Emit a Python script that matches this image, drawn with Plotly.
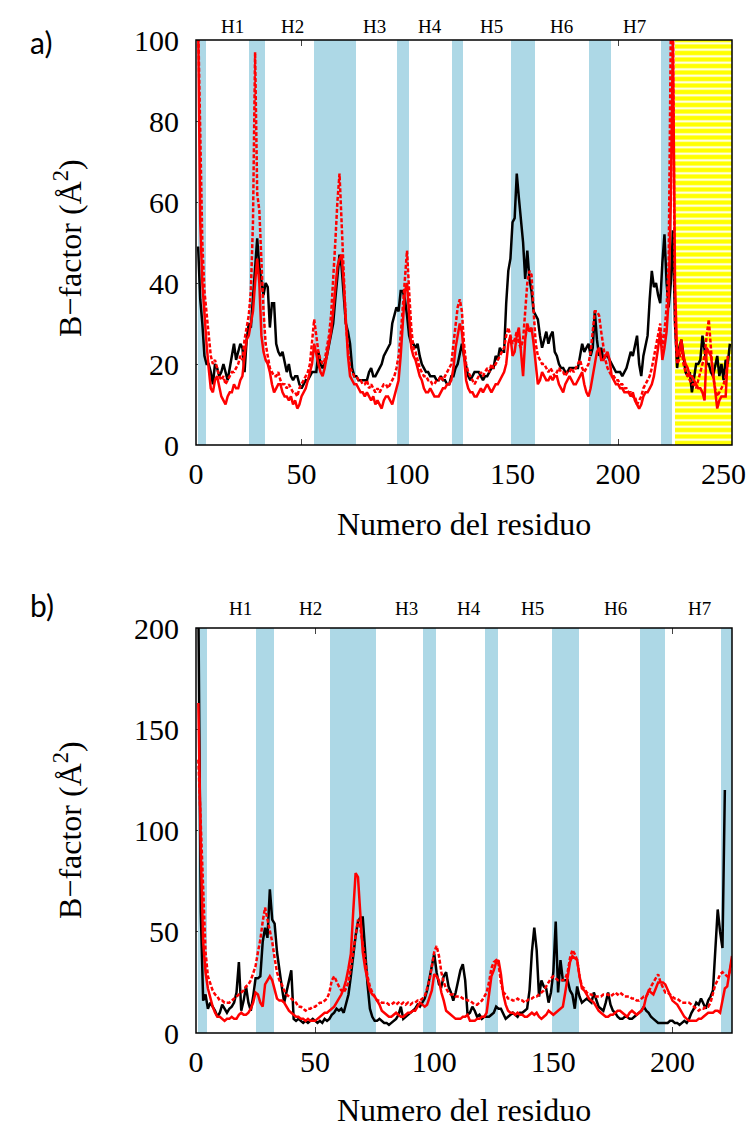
import plotly.graph_objects as go

# ---------------- DATA ----------------
# Panel a) : residues 1..N
a_black = [49,36,30,22,20,20,18,15,20,19,17,18,20,18,16,19,22,25,21,23,25,24,18,26,30,29,36,44,51,44,
           40,37,40,39,29,35,35,25,23,22,23,20,18,20,17,16,17,17,15,14,15,16,16,17,18,18,18,23,20,19,
           20,22,25,27,30,36,42,47,44,38,30,28,25,19,17,17,16,16,16,16,16,18,19,17,17,18,19,20,22,23,
           24,25,30,32,34,33,38,38,36,32,27,25,25,24,25,22,20,19,18,18,17,17,17,16,16,17,16,16,15,15,
           17,17,19,20,23,25,22,19,17,16,17,18,18,18,17,16,17,17,18,19,19,22,21,24,23,23,35,43,46,55,
           56,67,61,56,50,41,48,41,38,33,32,31,27,24,26,28,25,27,28,23,22,20,19,19,18,18,19,19,19,19,
           19,22,25,23,24,25,22,24,33,26,22,24,21,22,22,21,20,19,18,18,18,17,18,19,21,23,22,25,27,20,
           17,22,25,27,36,43,39,40,37,35,45,52,40,34,40,53,30,19,24,26,22,18,17,18,13,17,20,20,21,27,
           24,20,20,18,17,20,22,17,20,16,21,20,25]
a_red = [105,55,40,31,25,19,14,13,16,17,14,12,11,10,12,13,13,15,14,14,16,17,22,26,27,30,33,40,46,40,
         27,23,21,20,18,15,13,14,15,15,13,12,12,11,12,10,11,9,10,12,13,14,16,18,20,25,22,20,18,17,
         19,22,24,28,33,38,44,46,47,40,32,22,17,16,15,15,14,13,13,12,13,12,11,12,10,11,10,9,11,12,
         12,11,10,12,14,16,22,30,38,40,33,24,22,21,19,17,16,14,13,13,14,13,12,12,12,13,14,14,15,15,
         16,19,24,27,30,28,21,16,14,13,13,12,12,13,14,13,14,15,14,13,14,15,15,16,17,18,20,25,27,22,
         23,27,29,23,17,26,30,28,29,25,20,15,16,18,17,16,16,17,16,17,17,15,14,13,15,16,17,16,15,15,
         16,17,18,15,13,12,14,17,20,23,24,21,21,22,23,21,17,16,15,15,14,14,13,13,13,12,13,11,10,9,
         10,12,13,13,14,15,17,20,24,28,21,24,28,36,60,102,40,22,23,26,22,20,19,17,17,16,15,14,14,13,
         11,24,23,22,18,13,9,11,12,12,12,22]
a_red_dot = [105,75,50,38,32,26,22,20,21,19,17,16,17,15,16,17,18,18,19,20,22,21,26,29,32,38,55,97,62,58,
             45,33,25,22,19,18,17,17,18,16,15,15,14,15,14,13,13,12,14,15,16,17,18,20,25,31,27,23,21,20,
             21,24,27,32,40,50,60,67,55,42,30,24,19,18,17,17,16,16,15,15,16,14,15,14,13,14,13,14,15,15,
             14,15,16,17,19,22,27,34,42,48,38,29,24,23,21,19,18,17,17,16,16,15,15,16,16,17,16,17,18,19,
             20,25,30,34,36,33,25,20,18,17,16,15,16,17,18,17,18,19,18,20,19,20,21,22,23,24,27,29,27,25,
             26,28,25,24,26,34,40,43,42,33,25,22,21,20,20,19,18,19,18,17,18,19,18,18,17,18,18,19,18,19,
             20,21,19,18,19,20,23,28,33,33,32,28,24,21,19,18,17,17,16,16,15,15,14,14,13,13,12,12,10,11,
             12,14,15,16,17,19,22,25,28,30,24,28,34,45,102,102,30,20,21,24,20,18,17,16,15,15,14,16,18,20,
             22,27,31,24,17,14,12,13,14,15,17,20]

# Panel b) : residues 1..N
b_black = [210,60,16,19,12,15,13,11,8,10,14,12,10,12,13,15,20,35,11,16,23,15,11,18,27,27,28,45,52,47,
           71,56,54,40,30,23,15,20,26,31,7,6,7,6,5,6,5,6,7,6,5,6,5,7,6,7,9,10,12,11,
           12,10,14,19,28,39,48,55,57,57,40,24,12,8,6,6,7,6,5,5,4,5,6,7,9,13,7,8,9,10,
           11,12,14,13,15,17,21,27,33,39,30,24,23,28,30,23,20,16,20,26,31,34,26,9,10,13,11,8,9,7,
           8,8,8,9,10,13,12,12,9,7,8,9,10,9,8,10,10,11,12,21,40,52,41,18,26,23,22,15,20,30,
           55,20,36,26,26,26,21,19,12,23,18,15,16,17,16,15,20,16,13,12,11,15,20,14,11,10,8,7,7,8,
           8,7,7,8,9,10,11,13,11,10,8,7,6,5,5,5,5,5,6,6,5,5,4,5,6,5,7,10,12,15,
           14,17,14,12,16,18,21,40,61,50,42,120]
b_red = [163,90,45,30,22,17,13,10,8,8,7,6,7,7,8,7,7,9,10,9,9,10,12,15,20,19,15,13,24,26,
         28,26,22,17,16,16,15,13,11,10,9,8,8,7,7,6,7,6,6,6,7,8,9,10,10,11,12,13,15,17,
         19,22,26,32,39,60,79,77,56,40,32,27,21,19,18,16,14,11,10,9,8,8,9,10,9,8,8,9,10,10,
         11,11,13,15,14,13,14,18,21,29,28,26,20,16,11,10,9,8,7,7,7,8,8,9,6,6,6,7,7,8,
         8,10,18,28,31,35,36,29,19,14,11,10,10,9,10,9,9,8,8,9,10,9,10,8,7,8,9,11,10,9,
         10,11,12,13,20,27,35,38,37,36,28,22,21,19,17,16,15,13,11,10,9,8,8,9,9,10,11,11,10,9,
         8,10,11,10,9,10,11,13,18,21,20,19,22,25,25,25,24,21,18,16,15,14,12,10,8,7,6,6,6,6,
         7,7,8,9,10,10,10,11,11,10,17,22,23,30,38]
b_red_dot = [135,100,70,40,28,24,21,19,18,16,16,15,15,15,16,17,18,19,20,21,23,24,26,30,33,40,46,55,62,56,
             50,45,37,30,26,24,21,19,18,17,16,15,13,13,12,11,12,12,13,13,14,15,15,16,17,20,26,28,25,23,
             21,20,22,25,32,40,48,56,52,45,36,28,23,20,18,16,16,15,15,15,14,14,15,14,15,14,15,14,15,14,
             15,15,16,16,17,18,22,26,33,40,43,38,30,25,22,20,19,19,18,18,18,17,17,16,16,15,14,14,15,16,
             18,20,25,32,35,36,34,25,20,19,17,17,16,16,17,16,16,15,16,17,17,18,18,19,20,21,23,25,27,28,
             27,26,26,26,27,30,37,41,39,36,28,23,22,20,19,19,18,18,18,18,19,19,19,18,19,20,19,20,19,18,
             18,18,17,17,16,16,17,18,18,20,23,25,27,29,25,22,20,20,19,18,17,17,16,15,15,15,15,14,13,12,
             11,12,12,13,13,15,20,24,26,29,30,29,28,30,36]

# Helix bands (residue start, end), same for both panels
helix_start = [1.0, 25.1, 56.1, 95.2, 121.3, 149.3, 186.4, 220.4]
helix_end = [4.5, 32.6, 75.7, 100.8, 126.7, 160.7, 196.8, 225.5]
# Yellow (unresolved) region in panel a
yellow_start, yellow_end = 226.8, 254.0

helix_labels = ["H1", "H2", "H3", "H4", "H5", "H6", "H7"]
helix_label_pos_a = [17.4, 45.7, 84.8, 110.9, 140.2, 173.4, 207.9]
helix_label_pos_b = [18.8, 48.2, 88.5, 114.4, 141.2, 176.2, 211.3]

xrange_a, yrange_a = [0, 254], [0, 100]
xrange_b, yrange_b = [0, 225], [0, 200]
xticks_a = [0, 50, 100, 150, 200, 250]
yticks_a = [0, 20, 40, 60, 80, 100]
xticks_b = [0, 50, 100, 150, 200]
yticks_b = [0, 50, 100, 150, 200]

# ---------------- FIGURE ----------------
W, H = 755, 1128
SERIF = "Liberation Serif"
BAND = "#add8e6"

fig = go.Figure()

def add_panel(xa, ya, black, red, red_dot, ymax, yellow=False):
    centers = [(s + e) / 2 for s, e in zip(helix_start, helix_end)]
    widths = [e - s for s, e in zip(helix_start, helix_end)]
    fig.add_trace(go.Bar(x=centers, y=[ymax] * len(centers), width=widths, base=0,
                         marker=dict(color=BAND, line=dict(width=0)),
                         xaxis=xa, yaxis=ya, showlegend=False, hoverinfo="skip"))
    if yellow:
        fig.add_trace(go.Bar(x=[(yellow_start + yellow_end) / 2], y=[ymax],
                             width=[yellow_end - yellow_start], base=0,
                             marker=dict(color="#ffff00", line=dict(width=0),
                                         pattern=dict(shape="-", fgcolor="white", bgcolor="#ffff00",
                                                      size=6.5, solidity=0.3, fillmode="replace")),
                             xaxis=xa, yaxis=ya, showlegend=False, hoverinfo="skip"))
    xs_b = list(range(1, len(black) + 1))
    xs_r = list(range(1, len(red) + 1))
    xs_d = list(range(1, len(red_dot) + 1))
    fig.add_trace(go.Scatter(x=xs_b, y=black, mode="lines", line=dict(color="black", width=2.5),
                             xaxis=xa, yaxis=ya, showlegend=False))
    fig.add_trace(go.Scatter(x=xs_r, y=red, mode="lines", line=dict(color="#ff0000", width=2.5),
                             xaxis=xa, yaxis=ya, showlegend=False))
    fig.add_trace(go.Scatter(x=xs_d, y=red_dot, mode="lines",
                             line=dict(color="#ff0000", width=2.5, dash="4px,2px"),
                             xaxis=xa, yaxis=ya, showlegend=False))

add_panel("x", "y", a_black, a_red, a_red_dot, yrange_a[1], yellow=True)
add_panel("x2", "y2", b_black, b_red, b_red_dot, yrange_b[1])

xdom = [196 / W, 732 / W]
ydom_a = [1 - 445 / H, 1 - 40 / H]
ydom_b = [1 - 1033 / H, 1 - 628 / H]

axis_common = dict(ticks="inside", ticklen=6, tickcolor="#444", tickwidth=1.2, mirror="ticks",
                   showline=False, showgrid=False, zeroline=False, layer="below traces",
                   automargin=False,
                   tickfont=dict(family=SERIF, size=30, color="black"), fixedrange=True)

fig.update_layout(
    template="none",
    width=W, height=H, margin=dict(l=0, r=0, t=0, b=0, pad=0, autoexpand=False),
    paper_bgcolor="white", plot_bgcolor="white", barmode="overlay", bargap=0,
    xaxis=dict(domain=xdom, range=xrange_a, tickvals=xticks_a, anchor="y",
               ticklabelstandoff=8, **axis_common),
    yaxis=dict(domain=ydom_a, range=yrange_a, tickvals=yticks_a, anchor="x",
               ticklabelstandoff=16, **axis_common),
    xaxis2=dict(domain=xdom, range=xrange_b, tickvals=xticks_b, anchor="y2",
                ticklabelstandoff=8, **axis_common),
    yaxis2=dict(domain=ydom_b, range=yrange_b, tickvals=yticks_b, anchor="x2",
                ticklabelstandoff=16, **axis_common),
)

# frames drawn above bands
for xr, yr in (("x domain", "y domain"), ("x2 domain", "y2 domain")):
    fig.add_shape(type="rect", xref=xr, yref=yr, x0=0, x1=1, y0=0, y1=1,
                  line=dict(color="black", width=1.5), layer="above")

ann = []
for lab, xa_, xb_ in zip(helix_labels, helix_label_pos_a, helix_label_pos_b):
    ann.append(dict(x=xa_, y=1 - 26 / H, xref="x", yref="paper", text=lab, showarrow=False,
                    font=dict(family=SERIF, size=19, color="black"), yanchor="middle"))
    ann.append(dict(x=xb_, y=1 - 608 / H, xref="x2", yref="paper", text=lab, showarrow=False,
                    font=dict(family=SERIF, size=19, color="black"), yanchor="middle"))

title_font = dict(family=SERIF, size=32, color="black")
ann += [
    dict(x=464 / W, y=1 - 524 / H, xref="paper", yref="paper", text="Numero del residuo",
         showarrow=False, font=title_font, yanchor="middle"),
    dict(x=464 / W, y=1 - 1110 / H, xref="paper", yref="paper", text="Numero del residuo",
         showarrow=False, font=title_font, yanchor="middle"),
    dict(x=68 / W, y=1 - 248 / H, xref="paper", yref="paper", text="B−factor (Å<sup>2</sup>)",
         showarrow=False, font=title_font, textangle=-90, xanchor="center", yanchor="middle"),
    dict(x=68 / W, y=1 - 830 / H, xref="paper", yref="paper", text="B−factor (Å<sup>2</sup>)",
         showarrow=False, font=title_font, textangle=-90, xanchor="center", yanchor="middle"),
    dict(x=28 / W, y=1 - 42 / H, xref="paper", yref="paper", text="a)", showarrow=False,
         font=dict(family="Lato", size=30, color="black"), yanchor="middle"),
    dict(x=28 / W, y=1 - 605 / H, xref="paper", yref="paper", text="b)", showarrow=False,
         font=dict(family="Lato", size=30, color="black"), yanchor="middle"),
]
fig.update_layout(annotations=ann)

fig.write_html("out.html")
